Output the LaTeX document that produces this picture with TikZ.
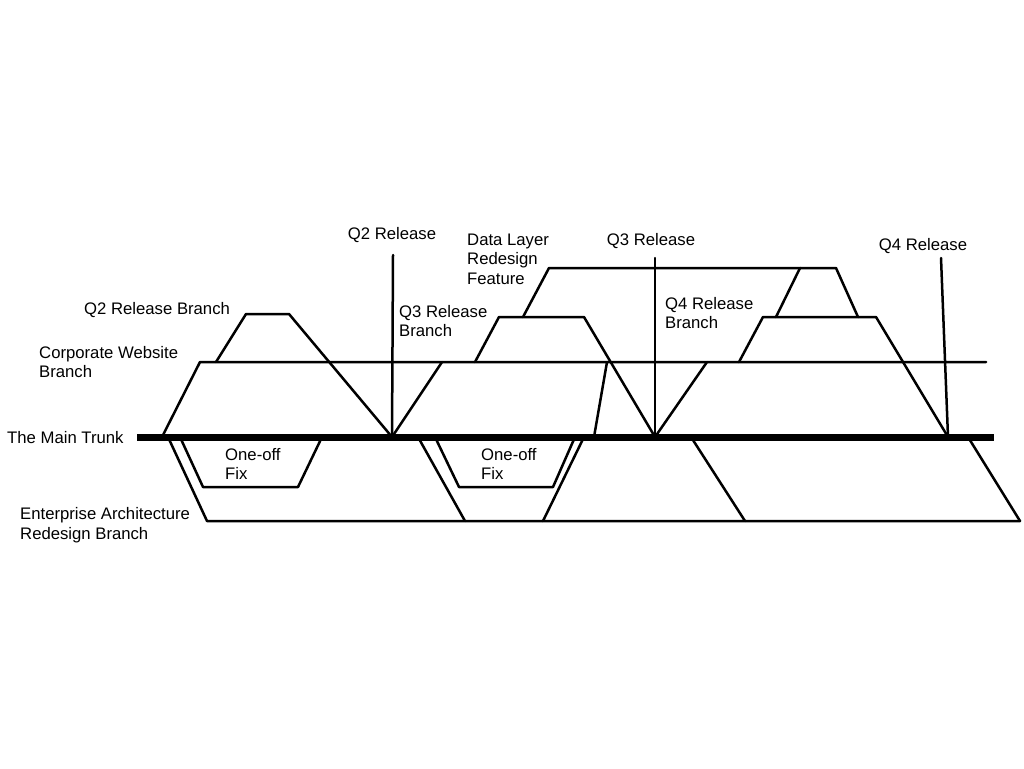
\documentclass[tikz,border=0pt]{standalone}
\usepackage{fontspec}
\setmainfont{Liberation Sans}
\usetikzlibrary{positioning}

\begin{document}
\begin{tikzpicture}[x=1pt,y=-1pt]
\tikzset{
  label/.style={inner sep=0pt,font=\fontsize{16.7}{19.5}\selectfont,align=left},
  branch/.style={draw=black,line width=2.5pt,line cap=round,line join=round},
  trunk/.style={draw=black,line width=7pt}
}
\useasboundingbox[fill=white] (0,0) rectangle (1024,768);
% labels
\node[label,anchor=west] (n_q2rb) at (84,310) {Q2 Release Branch};
\node[label,anchor=west] (n_corp) at (39,362) {Corporate Website\\Branch};
\node[label,anchor=west] (n_trunk) at (7,438) {The Main Trunk};
\node[label,anchor=west] (n_fix1) at (225,464) {One-off\\Fix};
\node[label,anchor=west] (n_ent) at (20,525) {Enterprise Architecture\\Redesign Branch};
\node[label] (n_q2r) at (392,235) {Q2 Release};
\node[label,anchor=west] (n_q3rb) at (399,321) {Q3 Release\\Branch};
\node[label,anchor=west] (n_data) at (467,259) {Data Layer\\Redesign\\Feature};
\node[label] (n_q3r) at (651,241) {Q3 Release};
\node[label,anchor=west] (n_q4rb) at (665,313) {Q4 Release\\Branch};
\node[label] (n_q4r) at (923,246) {Q4 Release};
\node[label,anchor=west] (n_fix2) at (481,464) {One-off\\Fix};
% trunk
\coordinate (t_start) at (137,437);
\coordinate (t_end) at (994,437);
\coordinate (t_q2) at (392,437);
\coordinate (t_q3) at (655,437);
\coordinate (t_q4) at (948,437);
% corporate website branch
\coordinate (c_a) at (162,437);
\coordinate (c_b) at (200,362);
\coordinate (c_end) at (986,362);
\coordinate (c_q3) at (442,362);
\coordinate (c_q4) at (707,362);
\coordinate (c_m1) at (607,362);
\coordinate (t_m1) at (594,437);
% release branches
\coordinate (q2_a) at (216,362);
\coordinate (q2_b) at (246,314);
\coordinate (q2_c) at (289,314);
\coordinate (q3_a) at (475,362);
\coordinate (q3_b) at (499,317);
\coordinate (q3_c) at (584,317);
\coordinate (q4_a) at (739,362);
\coordinate (q4_b) at (763,317);
\coordinate (q4_c) at (876,317);
% data layer feature
\coordinate (d_a) at (523,317);
\coordinate (d_b) at (549,268);
\coordinate (d_c) at (836,268);
\coordinate (d_d) at (858,317);
\coordinate (d_e) at (800,268);
\coordinate (d_f) at (776,317);
% release tags
\coordinate (r_q2) at (393,255);
\coordinate (r_q3) at (655,258);
\coordinate (r_q4) at (941,258);
% enterprise branch
\coordinate (e_a) at (168,437);
\coordinate (e_b) at (207,521);
\coordinate (e_end) at (1020,521);
\coordinate (e_t4) at (968,437);
\coordinate (e_t1) at (418,437);
\coordinate (e_m1) at (465,521);
\coordinate (e_m2) at (543,521);
\coordinate (e_t2) at (584,437);
\coordinate (e_t3) at (691,437);
\coordinate (e_m3) at (745,521);
% one-off fixes
\coordinate (f1_a) at (180,437);
\coordinate (f1_b) at (203,487);
\coordinate (f1_c) at (298,487);
\coordinate (f1_d) at (322,437);
\coordinate (f2_a) at (435,437);
\coordinate (f2_b) at (459,487);
\coordinate (f2_c) at (553,487);
\coordinate (f2_d) at (575,437);

\draw[branch] (c_a) -- (c_b) -- (c_end);
\draw[branch] (q2_a) -- (q2_b) -- (q2_c) -- (t_q2);
\draw[branch] (r_q2) -- (t_q2);
\draw[branch] (t_q2) -- (c_q3);
\draw[branch] (q3_a) -- (q3_b) -- (q3_c) -- (t_q3);
\draw[branch] (d_a) -- (d_b) -- (d_c) -- (d_d);
\draw[branch] (d_e) -- (d_f);
\draw[branch] (c_m1) -- (t_m1);
\draw[branch] (r_q3) -- (t_q3);
\draw[branch] (t_q3) -- (c_q4);
\draw[branch] (q4_a) -- (q4_b) -- (q4_c) -- (t_q4);
\draw[branch] (r_q4) -- (t_q4);
\draw[branch] (e_a) -- (e_b) -- (e_end);
\draw[branch] (e_t4) -- (e_end);
\draw[branch] (e_t1) -- (e_m1);
\draw[branch] (e_m2) -- (e_t2);
\draw[branch] (e_t3) -- (e_m3);
\draw[branch] (f1_a) -- (f1_b) -- (f1_c) -- (f1_d);
\draw[branch] (f2_a) -- (f2_b) -- (f2_c) -- (f2_d);
\draw[trunk] (t_start) -- (t_end);
\end{tikzpicture}
\end{document}
